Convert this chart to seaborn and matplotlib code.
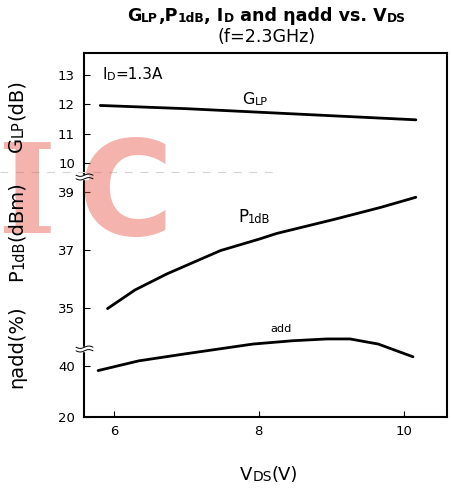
import numpy as np
import pandas as pd
import matplotlib
matplotlib.use('Agg')
import matplotlib.pyplot as plt
from matplotlib.text import Annotation
from matplotlib.lines import Line2D
import seaborn as sns

# Values (VDS in V)
vds_glp = [5.81, 7.0, 8.0, 9.0, 10.17]
glp_db = [11.96, 11.85, 11.73, 11.61, 11.47]

vds_p1db = [5.91, 6.29, 6.73, 7.47, 8.0, 8.25, 9.04, 9.68, 10.17]
p1db_dbm = [34.99, 35.63, 36.18, 36.98, 37.37, 37.57, 38.05, 38.46, 38.81]

vds_eta = [5.78, 6.34, 6.97, 7.92, 8.47, 8.94, 9.26, 9.65, 10.13]
eta_add = [38.2, 42.0, 44.7, 48.6, 49.9, 50.6, 50.6, 48.6, 43.6]

x_ticks = [6, 8, 10]
glp_ticks = [10, 11, 12, 13]
p1db_ticks = [35, 37, 39]
eta_ticks = [20, 40]

sns.set_style('white')
plt.rcParams['font.family'] = ['DejaVu Sans']
plt.rcParams['text.color'] = 'black'
plt.rcParams['xtick.color'] = 'black'
plt.rcParams['ytick.color'] = 'black'
plt.rcParams['axes.labelcolor'] = 'black'

W, H = 451, 488
fig = plt.figure(figsize=(W / 100, H / 100), dpi=100)


def fx(x):
    return x / W


def fy(y):
    return 1 - y / H


ax = fig.add_axes([fx(84), fy(417), 363 / W, 364 / H])
ax2 = ax.twinx()
ax3 = ax.twinx()

glp_df = pd.DataFrame({'VDS': vds_glp, 'val': glp_db})
p1_df = pd.DataFrame({'VDS': vds_p1db, 'val': p1db_dbm})
eta_df = pd.DataFrame({'VDS': vds_eta, 'val': eta_add})

sns.lineplot(data=glp_df, x='VDS', y='val', ax=ax, color='black', lw=2.0)
sns.lineplot(data=p1_df, x='VDS', y='val', ax=ax2, color='black', lw=2.0)
sns.lineplot(data=eta_df, x='VDS', y='val', ax=ax3, color='black', lw=2.0)

ax.set_xlim(5.585, 10.60)
ax.set_ylim(1.33, 13.75)
ax2.set_ylim(31.27, 43.76)
ax3.set_ylim(20, 162.7)

ax.set_xticks(x_ticks)
ax.set_yticks(glp_ticks)
ax2.set_yticks(p1db_ticks)
ax3.set_yticks(eta_ticks)

for a in (ax, ax2, ax3):
    a.set_xlabel('')
    a.set_ylabel('')
    a.tick_params(axis='y', which='both', left=True, labelleft=True,
                  right=False, labelright=False, direction='in',
                  length=4.3, width=0.8, pad=6.5, labelsize=9.5, colors='black')
    for s in a.spines.values():
        s.set_linewidth(1.5)
        s.set_color('black')
for a in (ax2, ax3):
    for s in a.spines.values():
        s.set_visible(False)
ax.tick_params(axis='x', bottom=True, top=False, direction='in',
               length=4.3, width=0.8, pad=5.5, labelsize=9.5, colors='black')


def rich(x, y, pieces, rotation=0, zorder=3):
    # draw a label made of pieces of different size, side by side
    s, size, weight = pieces[0]
    if rotation:
        t = fig.text(fx(x), fy(y), s, size=size, weight=weight, rotation=90,
                     ha='right', va='bottom', zorder=zorder)
    else:
        t = fig.text(fx(x), fy(y), s, size=size, weight=weight,
                     ha='left', va='baseline', zorder=zorder)
    for s, size, weight in pieces[1:]:
        if rotation:
            t = Annotation(s, xy=(1, 1), xycoords=t, size=size, weight=weight,
                           rotation=90, ha='right', va='bottom', zorder=zorder)
        else:
            t = Annotation(s, xy=(1, 0), xycoords=t, size=size, weight=weight,
                           ha='left', va='bottom', zorder=zorder)
        fig.add_artist(t)


# watermark
wm = '#e75847'
fig.text(fx(26), fy(233), 'I', size=90, weight='bold', family='DejaVu Serif',
         color=wm, alpha=0.45, ha='center', va='baseline', zorder=1)
fig.text(fx(78), fy(235), 'C', size=94, weight='bold', color=wm, alpha=0.45,
         ha='left', va='baseline', zorder=1)
fig.add_artist(Line2D([0, fx(280)], [fy(172.3), fy(172.3)], transform=fig.transFigure,
                      color='#d4d4d4', lw=0.8, dashes=(7, 7), zorder=0.5))

# axis break marks
for yb in (177, 349):
    xs = np.linspace(76, 93, 30)
    wave = 1.2 * np.sin((xs - 76) / 17 * 2 * np.pi)
    fig.add_artist(plt.Rectangle((fx(80), fy(yb + 1.6)), 8 / W, 3.2 / H,
                                 transform=fig.transFigure, color='white', zorder=2))
    for off in (-1.8, 1.8):
        fig.add_artist(Line2D(fx(xs), fy(yb + off + wave), transform=fig.transFigure,
                              color='black', lw=0.7, zorder=2.1))

# titles
rich(127, 21, [('G', 12.6, 'bold'), ('LP', 8.8, 'bold'), (',P', 12.6, 'bold'),
               ('1dB', 8.8, 'bold'), (', I', 12.6, 'bold'), ('D', 8.8, 'bold'),
               (' and ηadd vs. V', 12.6, 'bold'), ('DS', 8.8, 'bold')])
fig.text(fx(267), fy(42.5), '(f=2.3GHz)', size=12.6, ha='center', va='baseline')

# axis labels
rich(26, 152, [('G', 14, 'normal'), ('LP', 10.5, 'normal'), ('(dB)', 14, 'normal')], rotation=90)
rich(26, 281, [('P', 14, 'normal'), ('1dB', 10.5, 'normal'), ('(dBm)', 14, 'normal')], rotation=90)
rich(26, 388, [('ηadd(%)', 14, 'normal')], rotation=90)
rich(240, 480, [('V', 13, 'normal'), ('DS', 10, 'normal'), ('(V)', 13, 'normal')])

# curve labels
rich(102, 79, [('I', 11, 'normal'), ('D', 8, 'normal'), ('=1.3A', 11, 'normal')])
rich(242, 104, [('G', 11.5, 'normal'), ('LP', 8, 'normal')])
rich(238, 222, [('P', 12, 'normal'), ('1dB', 8.3, 'normal')])
rich(270, 332, [('add', 8.2, 'normal')])

fig.savefig('out.png', dpi=100)
